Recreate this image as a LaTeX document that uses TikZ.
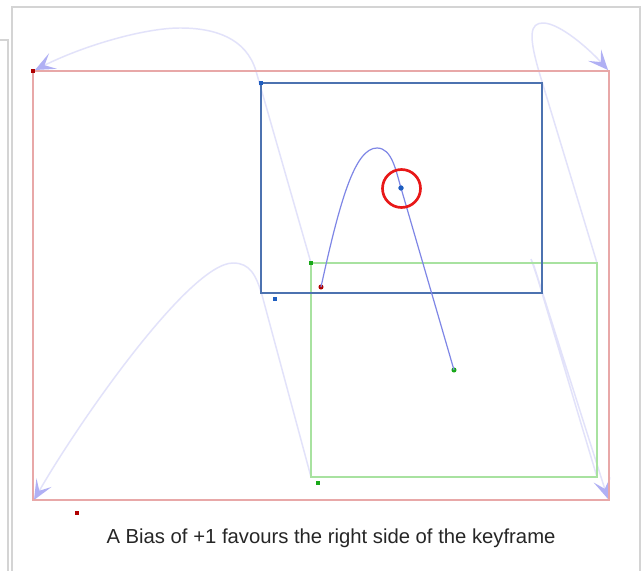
\documentclass[tikz,border=0pt]{standalone}
\usepackage{fontspec}
\setmainfont{Liberation Sans}
\usetikzlibrary{arrows.meta}
\definecolor{frameg}{HTML}{D4D4D4}
\definecolor{redr}{HTML}{E8A8A8}
\definecolor{bluer}{HTML}{4C72B0}
\definecolor{greenr}{HTML}{A8E2A0}
\definecolor{dred}{HTML}{B00000}
\definecolor{dblue}{HTML}{1E5EC0}
\definecolor{dgreen}{HTML}{18A818}
\definecolor{pathc}{HTML}{7E86E6}
\definecolor{ghost}{HTML}{E2E2FA}
\definecolor{ghosttip}{HTML}{B0B0F4}
\definecolor{ringc}{HTML}{E81818}
\begin{document}
\begin{tikzpicture}[x=0.75pt,y=-0.75pt,
 ghostpath/.style={draw=ghost,line width=1.1pt,-{Stealth[length=15pt,width=13pt,inset=7pt,color=ghosttip]}},
 framel/.style={draw=frameg,line width=1.5pt},
 sqm/.style={inner sep=0pt,minimum size=3.6pt,fill=#1,draw=none},
 dotm/.style={circle,inner sep=0pt,minimum size=3.8pt,fill=#1,draw=none}]
\fill[white] (0,0) rectangle (643,571);
\useasboundingbox (0,0) rectangle (643,571);
% window frame
\coordinate (fa) at (12,571);
\coordinate (fb) at (12,7);
\coordinate (fc) at (640,7);
\coordinate (fd) at (640,571);
\coordinate (pa) at (0,40);
\coordinate (pb) at (8,40);
\coordinate (pc) at (8,571);
\draw[framel] (fa) -- (fb) -- (fc) -- (fd);
\draw[framel] (pa) -- (pb) -- (pc);
% corners
\coordinate (rTL) at (33,71);  \coordinate (rBR) at (609,500);
\coordinate (rTR) at (609,71); \coordinate (rBL) at (33,500);
\coordinate (bTL) at (261,83); \coordinate (bBR) at (542,293);
\coordinate (gTL) at (311,263); \coordinate (gBR) at (597,477);
\coordinate (gTR) at (597,263); \coordinate (gBL) at (311,477);
% ghost corner paths
\draw[ghostpath] (gTL) -- (256,71) .. controls (246,38) and (215,28) .. (180,28)
   .. controls (145,28) and (85,45) .. (35,70);
\draw[ghostpath] (gTR) -- (540,75) .. controls (528,35) and (530,23) .. (543,23)
   .. controls (560,23) and (590,50) .. (608,70);
\draw[ghostpath] (gBL) -- (262,295) .. controls (256,275) and (250,263) .. (233,263)
   .. controls (190,263) and (80,420) .. (34,500);
\draw[ghostpath] (gBR) -- (bBR) .. controls (533,262) and (527,250) .. (534,266) -- (608,499);
% rectangles
\draw[redr,line width=1.5pt] (rTL) rectangle (rBR);
\draw[greenr,line width=1.5pt] (gTL) rectangle (gBR);
\draw[bluer,line width=1.9pt] (bTL) rectangle (bBR);
% markers
\node[sqm=dred] (m1) at (rTL) {};
\node[sqm=dred,minimum size=3pt] (m2) at (77,513) {};
\node[sqm=dblue] (m3) at (bTL) {};
\node[sqm=dblue,minimum size=3pt] (m4) at (275,299) {};
\node[sqm=dgreen] (m5) at (gTL) {};
\node[sqm=dgreen] (m6) at (318,483) {};
% motion path
\node[dotm=dred] (pr) at (321,287) {};
\node[dotm=dblue] (pb2) at (401,188) {};
\node[dotm=dgreen] (pg) at (454,370) {};
\draw[pathc,line width=0.9pt] (pr.center) .. controls (340,200) and (355,148) .. (377,148)
   .. controls (392,148) and (396,171) .. (pb2.center) -- (pg.center);
\node[dotm=dblue] at (pb2) {};
\node[circle,draw=ringc,line width=2pt,minimum size=28.5pt,inner sep=0pt] (ring) at (401.5,188.5) {};
% caption
\node[font=\fontsize{15.2}{18}\selectfont,text=black!85] (cap) at (331,538) {A Bias of +1 favours the right side of the keyframe};
\end{tikzpicture}
\end{document}
